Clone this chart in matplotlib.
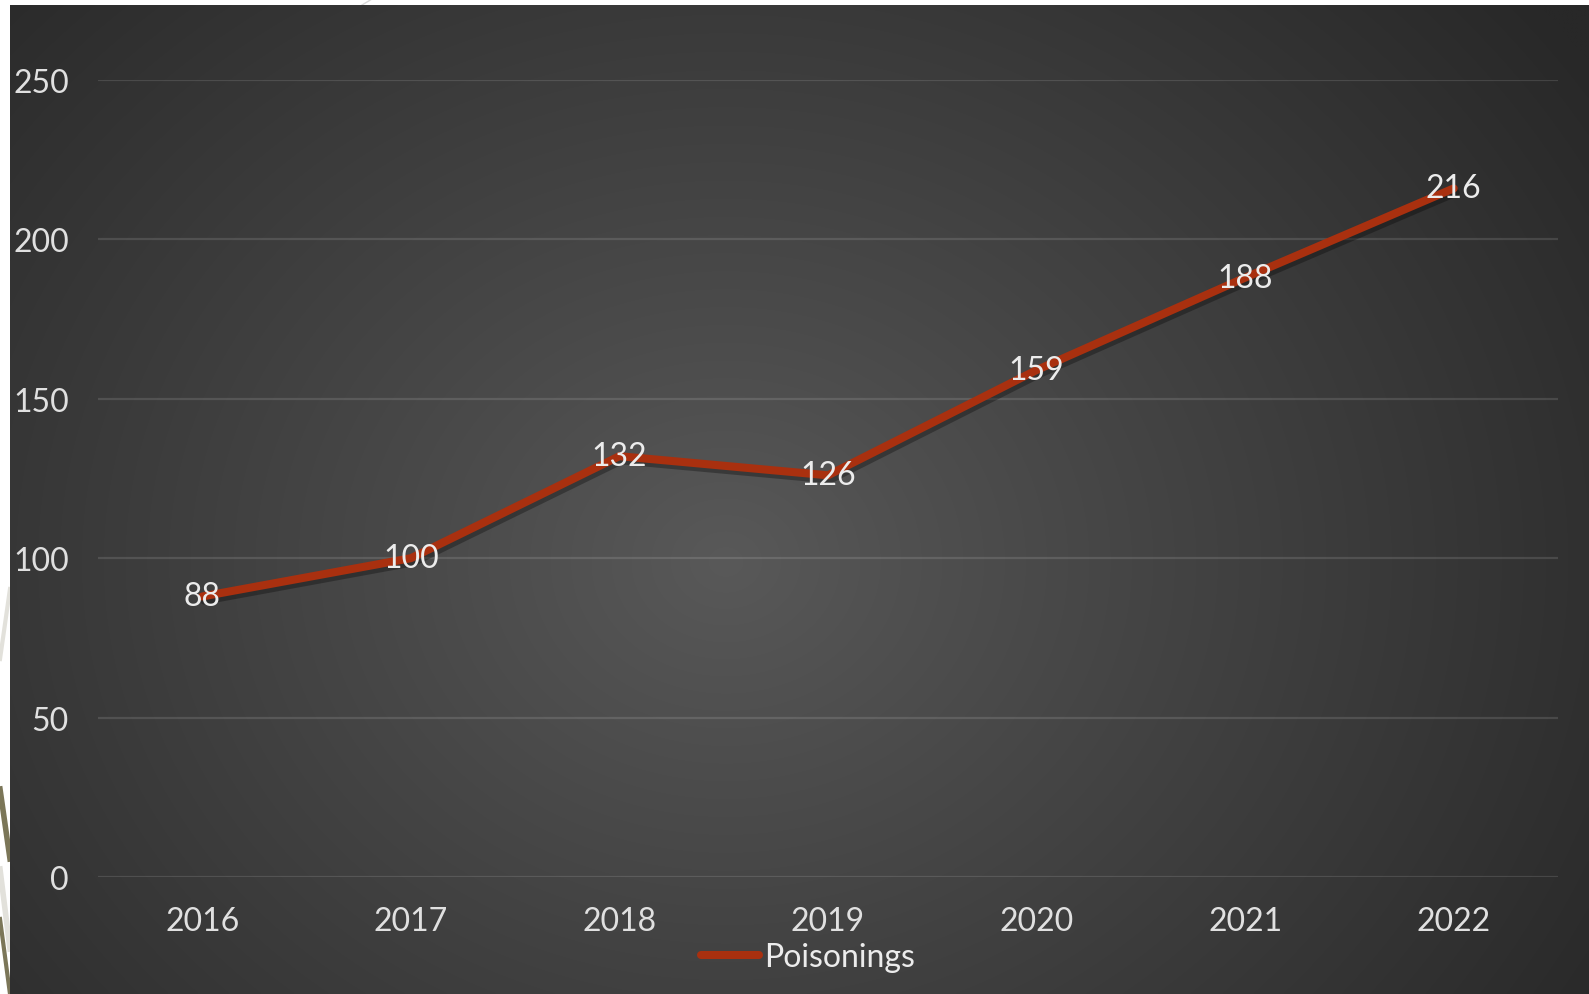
import numpy as np
import matplotlib
matplotlib.use("Agg")
import matplotlib.pyplot as plt
import matplotlib.patheffects as pe

years = ["2016", "2017", "2018", "2019", "2020", "2021", "2022"]
poisonings = [88, 100, 132, 126, 159, 188, 216]
yticks = [0, 50, 100, 150, 200, 250]
series_name = "Poisonings"

W, H = 1589, 995
plt.rcParams['font.family'] = ['Lato', 'DejaVu Sans']
fig = plt.figure(figsize=(W / 100, H / 100), dpi=100)
fig.patch.set_facecolor("white")

# background layer in pixel coordinates
bg = fig.add_axes([0, 0, 1, 1])
bg.set_xlim(0, W)
bg.set_ylim(H, 0)
bg.axis("off")
yy, xx = np.mgrid[0:H:2, 0:W:2]
cx, cy = 720, 560
r = np.sqrt(((xx - cx) / 1.0) ** 2 + ((yy - cy) / 0.85) ** 2)
t = np.clip(r / 1050.0, 0, 1) ** 0.95
c0, c1 = 0x59 / 255, 0x28 / 255
g = c0 + (c1 - c0) * t
img = np.dstack([g, g, g])
bg.imshow(img, extent=[10, W, H, 6], aspect="auto", interpolation="bilinear", zorder=1)
# decorative strokes outside the panel
bg.plot([0, 10], [660, 590], color="#e2e1db", lw=3, zorder=0.5)
bg.plot([0, 10], [790, 860], color="#7b7658", lw=4, zorder=0.5)
bg.plot([0, 10], [870, 950], color="#e2e1db", lw=4, zorder=0.5)
bg.plot([0, 10], [920, 995], color="#7b7658", lw=3, zorder=0.5)
bg.plot([362, 372], [6, 0], color="#d8d8d8", lw=1, zorder=0.5)

left, right = 98 / W, 1558 / W
bottom, top = (H - 878) / H, (H - 81) / H
ax = fig.add_axes([left, bottom, right - left, top - bottom])
ax.set_facecolor("none")
x = np.arange(len(years))
ax.plot(x, poisonings, color="#A9300F", lw=5.8, solid_capstyle="round",
        solid_joinstyle="round", label=series_name, zorder=3,
        path_effects=[pe.SimpleLineShadow(offset=(1.5, -3), shadow_color="black", alpha=0.3),
                      pe.Normal()])
for xi, v in zip(x, poisonings):
    ax.text(xi, v, str(v), ha="center", va="center", color="#ececec", fontsize=23, zorder=4)

ax.set_xlim(-0.5, len(years) - 0.5)
ax.set_ylim(0, 250)
ax.set_yticks(yticks)
ax.set_xticks(x)
ax.set_xticklabels(years)
ax.tick_params(axis="both", length=0, colors="#e0e0e0", labelsize=23)
ax.tick_params(axis="y", pad=21)
ax.tick_params(axis="x", pad=21)
ax.grid(axis="y", color="white", alpha=0.12, lw=1.6)
ax.set_axisbelow(True)
for s in ax.spines.values():
    s.set_visible(False)

leg = fig.legend(loc="center", bbox_to_anchor=(808 / W, 1 - 958 / H), frameon=False,
                 prop={"size": 23}, handlelength=1.8,
                 handletextpad=0.15, labelcolor="#ececec")
for h in leg.get_lines():
    h.set_path_effects([])
    h.set_linewidth(5.8)

fig.savefig("out.png", dpi=100, facecolor=fig.get_facecolor())
